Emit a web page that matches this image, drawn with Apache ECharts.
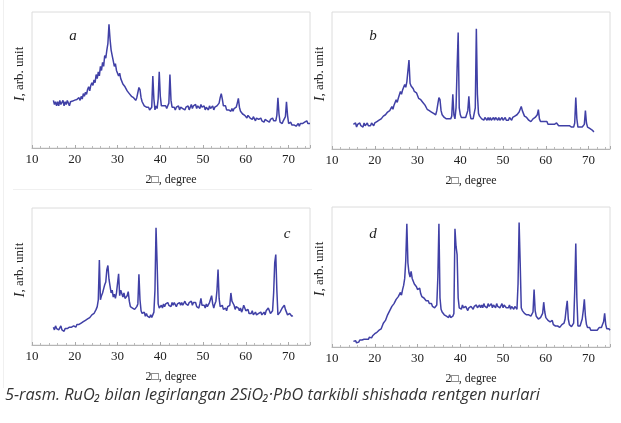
<!DOCTYPE html>
<html>
<head>
<meta charset="utf-8">
<script src="https://cdn.jsdelivr.net/npm/echarts@6/dist/echarts.min.js"></script>
<style>
  html, body { margin: 0; padding: 0; background: #fff; }
  #chart { width: 621px; height: 423px; }
</style>
</head>
<body>
<div id="chart"></div>
<script>
// 2-theta sampling of every pattern: start angle and step, degrees
var xStart = 15;
var xStep = 0.25;

// intensities, arbitrary units (0..100), one row per degree
var aVals = [
  35, 32, 34, 31,  34, 31, 35, 32,  33, 35, 31, 34,  32, 35, 33, 31,
  34, 33, 34.5, 35,  35.2, 35.4, 35.7, 36,  37, 35, 38, 36,  40, 38, 41, 39.5,
  43, 45, 42, 46,  48, 46, 50, 48,  54, 51, 56, 53,  60, 57, 63, 60,
  68, 66, 72, 77,  91, 80, 72, 68,  64, 60, 62, 57,  56, 53, 55, 51,
  50, 47, 48, 45,  44, 42, 43, 40,  40, 38, 39, 37,  37, 35, 37, 38,
  44.5, 43, 37, 34,  33, 31, 32, 30,  29, 30, 28, 27,  30, 53, 36, 28,
  31, 29, 36, 56,  38, 31, 30, 31,  30, 31, 29, 31,  33, 54, 35, 30,
  29, 30, 28, 30,  29, 31, 28, 30,  31, 29, 30, 28,  30, 29, 31, 28,
  30, 32, 29, 31,  30, 32, 29, 31,  31, 29, 32, 30,  29, 31, 28, 30,
  30, 28, 31, 29,  29, 31, 28, 30,  29, 31, 30, 33,  37, 40, 36, 31,
  30, 31, 28, 29,  28, 29, 27, 29,  27, 29, 28, 30,  33, 36.5, 30, 27,
  27, 25, 26, 24,  24, 22, 24, 23,  22, 23, 21, 23,  22, 20, 22, 21,
  21, 20, 22, 20,  21, 19, 21, 20,  20, 21, 19, 21,  20, 22, 20, 21,
  20, 24, 37, 25,  19, 20, 18, 20,  19, 23, 34, 24,  18, 17, 19, 17,
  18, 17, 18, 16,  17, 18, 16, 18,  17, 18, 17, 19,  19, 20, 18, 17,
  18
];

var bVals = [
  18, 17, 19, 16,  18, 17, 19, 17,  18, 16, 19, 17,  18, 19, 17, 18,
  17, 19, 18, 17,  19, 18, 20, 19,  21, 20, 22, 21,  24, 23, 25, 24,
  27, 26, 28, 27,  31, 29, 32, 31,  36, 34, 37, 37,  42, 40, 43, 42,
  47, 45, 49, 50,  65, 48, 46, 45,  44, 42, 43, 41,  39, 37, 38, 36,
  35, 34, 35, 32,  31, 29, 30, 28,  28, 27, 28, 26,  26, 25, 28, 33,
  37.5, 36, 28, 25,  24.5, 23, 24, 22,  23, 22, 21, 22,  24, 40, 25, 22,
  30, 59, 85, 30,  25, 23, 22, 23,  22, 23, 22, 28,  38.5, 26, 22, 23,
  22, 23, 30, 87.7,  40, 26, 24, 23,  22, 23, 21, 23,  22, 21, 23, 21,
  23, 21, 22, 23,  21, 23, 22, 21,  23, 21, 22, 23,  21, 22, 23, 21,
  22, 21, 23, 22,  21, 23, 22, 24,  23, 25, 24, 27,  29, 31, 28, 26,
  24, 25, 23, 22,  21, 22, 20, 21,  22, 21, 23, 22,  25, 28.7, 22, 20,
  19.6, 20, 19, 20,  19, 20, 18, 19,  18, 19, 18, 17,  18, 17, 19, 18,
  17, 18, 17, 16,  17, 16, 17, 18,  17, 16, 17, 16,  16, 17, 16, 19,
  37.5, 22, 16, 15,  16, 15, 16, 17,  18, 28, 19, 16,  16, 15, 14.7, 14,
  13, 12.5
];

var cVals = [
  13, 11, 14, 12,  13, 11, 12, 14,  11, 12, 10, 12,  11, 12, 11, 13,
  12, 13, 12, 14,  14, 13, 15, 14,  15, 14, 16, 15,  17, 16, 18, 17,
  19, 18, 20, 19,  22, 21, 23, 22,  26, 28, 33, 62,  33, 36, 38, 41,
  44, 46, 55, 58,  48, 43, 38, 40,  35, 37, 34, 38,  45, 52, 36, 40,
  41, 35, 38, 34,  33, 36, 39, 32,  28, 29, 27, 28,  26, 27, 28, 30,
  51.6, 33, 25, 23,  22, 24, 21, 23,  21, 22, 20, 22,  20, 22, 24, 40,
  85.6, 60, 30, 27,  26, 29, 27, 30,  28, 30, 29, 31,  29, 30, 28, 31,
  29, 31, 30, 28,  30, 29, 31, 29,  31, 29, 30, 32,  30, 31, 29, 31,
  30, 32, 29, 31,  30, 31, 28, 29,  27, 30, 34, 29,  28, 29, 27, 30,
  28, 29, 31, 30,  36, 30, 27, 30,  32, 40, 55, 34,  28, 27, 29, 26,
  26, 27, 25, 28,  27, 29, 38, 32,  31, 29, 26, 28,  29, 27, 25, 27,
  24, 26, 29, 27,  25, 24, 26, 23,  24, 23, 25, 22,  23, 24, 22, 23,
  23, 22, 24, 22,  23, 24, 22, 25,  24, 27, 25, 23,  23, 25, 38, 60,
  66, 40, 22, 21,  24, 25, 27, 28,  29, 26, 24, 22,  21, 23, 22, 21,
  21.5
];

var dVals = [
  4, 3, 4.5, 3,  4, 3.5, 5, 4,  5, 4, 5.5, 6,  5.5, 6.5, 5.5, 7,
  7, 6.5, 8, 7.5,  9.5, 8.5, 10.5, 10,  12, 11, 13, 12.5,  17, 16, 19, 18,
  23, 24, 26, 27,  29, 28, 31, 30,  34, 33, 36, 35,  39, 37, 41, 44,
  49, 62, 88, 60,  53, 50, 54, 49,  47, 45, 46, 43,  41, 40, 42, 38,
  36, 37, 35, 34,  33, 32, 33, 31,  30, 31, 29, 30,  28, 27, 30, 50,
  88, 35, 27, 25,  24, 23, 24, 22,  22, 21, 23, 21,  21, 22, 24, 84.5,
  72, 66, 35, 28,  29, 27, 30, 28,  27, 29, 28, 26,  28, 27, 29, 28,
  27, 29, 28, 30,  28, 29, 30, 28,  30, 28, 31, 29,  30, 28, 31, 29,
  29, 31, 28, 30,  29, 28, 31, 29,  30, 28, 29, 31,  28, 30, 29, 28,
  29, 28, 30, 27,  29, 28, 27, 29,  28, 27, 45, 89,  60, 28, 26, 25,
  24, 25, 23, 24,  23, 24, 22, 23,  25, 41, 26, 22,  21, 20, 19, 21,
  20, 24, 32, 25,  21, 20, 19, 20,  18, 17, 19, 16,  16, 15, 16, 15,
  15, 14, 15, 16,  16, 17, 20, 27,  33, 20, 16, 15,  14.5, 15, 17, 40,
  74, 35, 15, 14,  15, 16, 20, 26,  34, 22, 16, 14,  13, 14, 12, 13,
  12, 13, 12, 13,  12, 13, 14, 13,  14, 16, 18, 24,  16, 13, 12, 13,
  12
];

var panelLetters = ['a', 'b', 'c', 'd'];
var xMin = 10, xMax = 75, xInterval = 10;
var xName = '2\u25A1, degree';
var caption = '5-rasm. RuO\u2082 bilan legirlangan 2SiO\u2082\u00b7PbO tarkibli shishada rentgen nurlari';

function toPairs(vals) {
  return vals.map(function (v, i) { return [xStart + i * xStep, v]; });
}

var allVals = [aVals, bVals, cVals, dVals];

// panel boxes in pixels
var boxes = [
  { left: 32, top: 12, width: 278, height: 136 },
  { left: 332, top: 12, width: 278, height: 137 },
  { left: 32, top: 208, width: 278, height: 137 },
  { left: 332, top: 207, width: 278, height: 140 }
];

var serif = '"Liberation Serif", "DejaVu Serif", serif';
var chart = echarts.init(document.getElementById('chart'));

var grids = [], xAxes = [], yAxes = [], series = [], graphics = [];
boxes.forEach(function (b, i) {
  grids.push({
    left: b.left, top: b.top, width: b.width, height: b.height,
    show: true, borderColor: '#dcdcdc', borderWidth: 1, backgroundColor: '#fff'
  });
  xAxes.push({
    type: 'value', gridIndex: i, min: xMin, max: xMax, interval: xInterval,
    name: xName, nameLocation: 'middle', nameGap: 26,
    nameTextStyle: { fontFamily: serif, fontSize: 12, color: '#222' },
    axisLine: { lineStyle: { color: '#b5b5b5' } },
    axisTick: { inside: true, length: 3, lineStyle: { color: '#aaa' } },
    minorTick: { show: true, splitNumber: 5, length: 2, lineStyle: { color: '#bbb' } },
    axisLabel: { showMaxLabel: false, margin: 5, fontFamily: serif, fontSize: 13, color: '#222' },
    splitLine: { show: false }
  });
  yAxes.push({
    type: 'value', gridIndex: i, min: 0, max: 100,
    axisLine: { show: false }, axisTick: { show: false },
    axisLabel: { show: false }, splitLine: { show: false }
  });
  series.push({
    type: 'line', xAxisIndex: i, yAxisIndex: i,
    data: toPairs(allVals[i]),
    showSymbol: false, silent: true,
    lineStyle: { color: '#4040a6', width: 1.5 }
  });
  // rotated y-axis name
  graphics.push({
    type: 'text', x: b.left - 12, y: b.top + 62, rotation: Math.PI / 2,
    style: {
      text: '{i|I}, arb. unit',
      rich: { i: { fontStyle: 'italic', fontFamily: serif, fontSize: 14, fill: '#222' } },
      font: '13px ' + serif, fill: '#222', align: 'center', verticalAlign: 'middle'
    }
  });
});

// panel letters
var letterPos = [[73, 36], [373, 36], [287, 234], [373, 234]];
letterPos.forEach(function (p, i) {
  graphics.push({
    type: 'text', x: p[0], y: p[1],
    style: {
      text: panelLetters[i], font: 'italic 15px ' + serif, fill: '#222',
      align: 'center', verticalAlign: 'middle'
    }
  });
});

// faint outer frames of the figure
graphics.push({ type: 'line', shape: { x1: 3.5, y1: 0, x2: 3.5, y2: 388 }, style: { stroke: '#f0f0f0', lineWidth: 1 } });
graphics.push({ type: 'line', shape: { x1: 13, y1: 189.5, x2: 312, y2: 189.5 }, style: { stroke: '#f0f0f0', lineWidth: 1 } });

// caption
graphics.push({
  type: 'text', x: 5, y: 395,
  style: {
    text: caption, font: 'italic 16.3px "Open Sans", "Noto Sans", sans-serif',
    fill: '#333', verticalAlign: 'middle'
  }
});

chart.setOption({
  animation: false,
  backgroundColor: '#fff',
  grid: grids,
  xAxis: xAxes,
  yAxis: yAxes,
  series: series,
  graphic: graphics
});
</script>
</body>
</html>
